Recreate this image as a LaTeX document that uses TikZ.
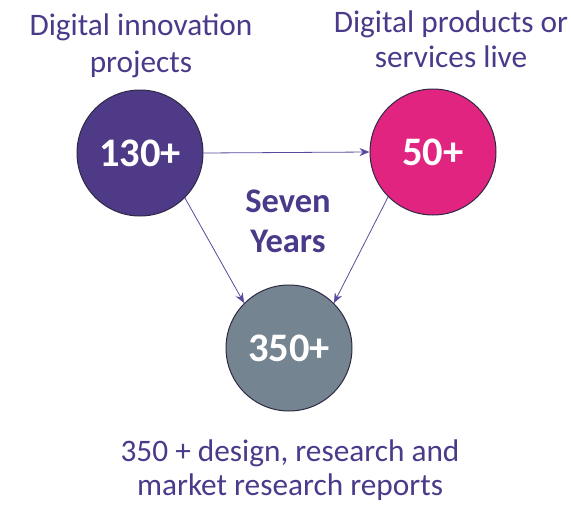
\documentclass[tikz,border=0pt]{standalone}
\usepackage{fontspec}
\setmainfont{Carlito}
\usetikzlibrary{arrows.meta}
\definecolor{txtpurple}{HTML}{4B3A8A}
\definecolor{cpurple}{HTML}{4E3A87}
\definecolor{cmagenta}{HTML}{E0247F}
\definecolor{cgray}{HTML}{748491}
\definecolor{cborder}{HTML}{2E2A45}
\definecolor{arrowc}{HTML}{5A4A9C}
\tikzset{
  bigcircle/.style={circle, draw=cborder, line width=1pt, minimum size=126pt, inner sep=0pt,
    text=white, font=\fontsize{40.5}{44}\selectfont\bfseries},
  label/.style={anchor=base, text=txtpurple, inner sep=0pt, font=\fontsize{31.3}{36}\selectfont},
  midlabel/.style={anchor=base, text=txtpurple, inner sep=0pt, font=\fontsize{34.5}{38}\selectfont\bfseries},
  conn/.style={draw=arrowc, line width=0.8pt, -{Stealth[length=10pt,width=8pt]}}
}
\begin{document}
\begin{tikzpicture}[x=1pt,y=-1pt]
\useasboundingbox (0,0) rectangle (571,504);
\node[bigcircle, fill=cpurple] (a) at (140,153) {130+};
\node[bigcircle, fill=cmagenta] (b) at (433,152) {50+};
\node[bigcircle, fill=cgray] (c) at (289,348) {350+};
\node[label] (a1) at (141,35) {Digital innovation};
\node[label] (a2) at (141,72) {projects};
\node[label] (b1) at (451,32) {Digital products or};
\node[label] (b2) at (451,67) {services live};
\node[midlabel] (m1) at (288,212) {Seven};
\node[midlabel] (m2) at (288,252) {Years};
\node[label] (c1) at (290,461) {350 + design, research and};
\node[label] (c2) at (290,495) {market research reports};
\draw[conn] (a.east) -- (b.west);
\draw[conn] (a.-45) -- (c.135);
\draw[conn] (b.225) -- (c.45);
\end{tikzpicture}
\end{document}
